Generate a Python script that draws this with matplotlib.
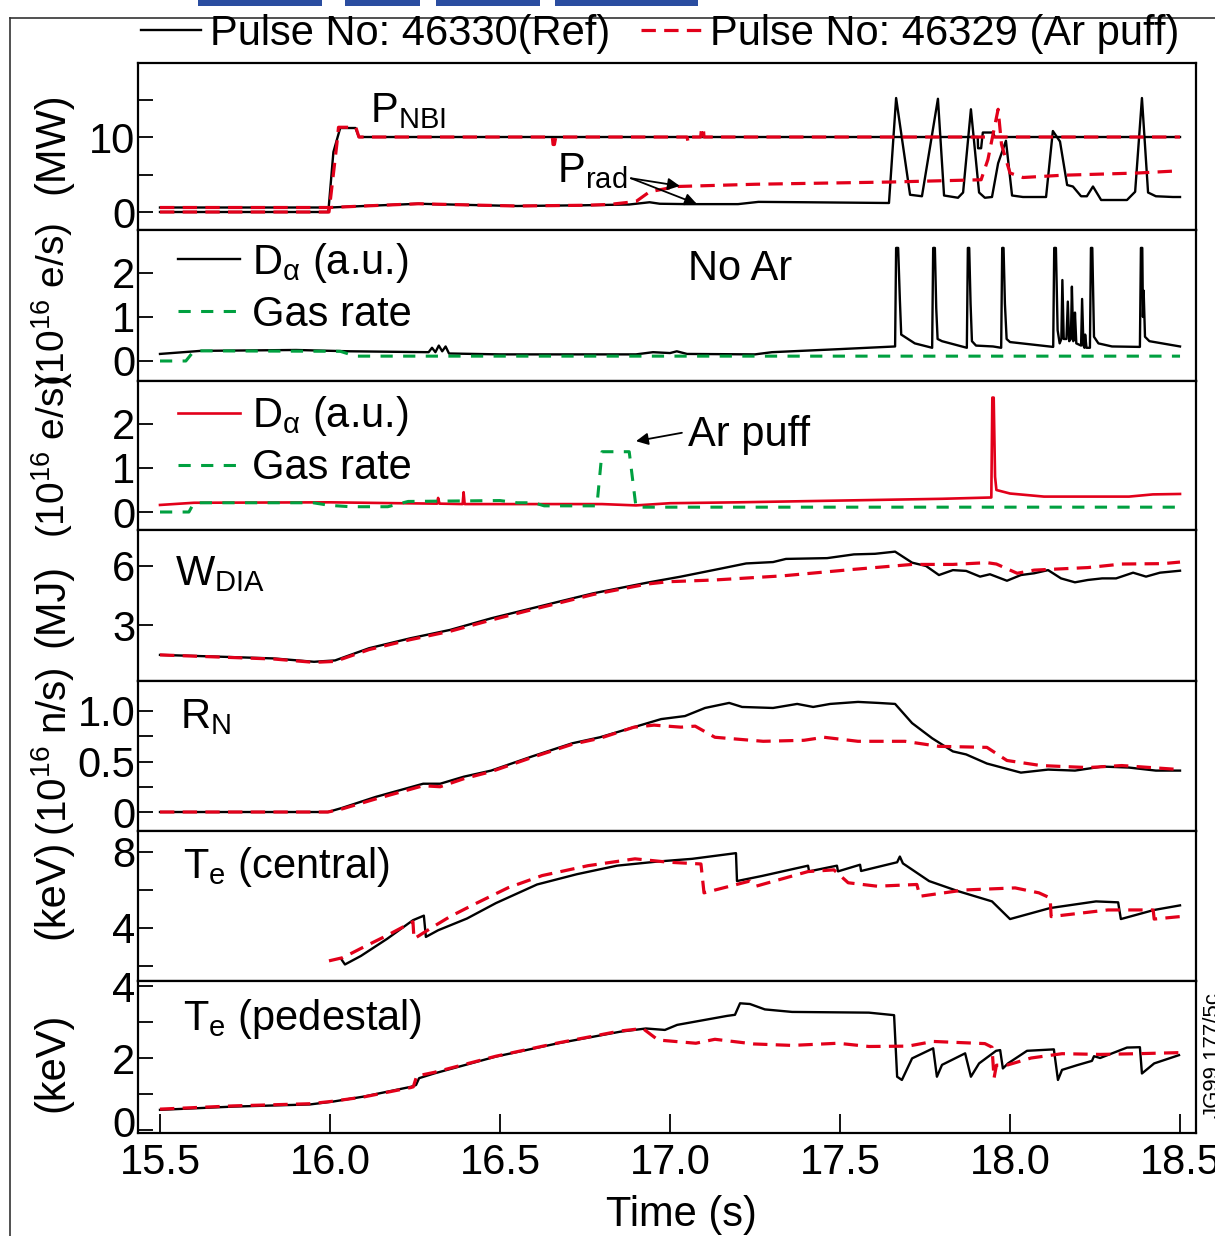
import matplotlib
matplotlib.use("Agg")
import matplotlib.pyplot as plt
from matplotlib.lines import Line2D
from matplotlib.patches import Rectangle
from matplotlib.transforms import ScaledTranslation

plt.rcParams['font.family'] = ['Liberation Sans', 'DejaVu Sans']
plt.rcParams['mathtext.fontset'] = 'custom'
plt.rcParams['mathtext.rm'] = 'Liberation Sans'
plt.rcParams['mathtext.it'] = 'Liberation Sans:italic'
plt.rcParams['mathtext.bf'] = 'Liberation Sans:bold'

# ---------------- DATA ----------------
x_ticks = [15.5, 16.0, 16.5, 17.0, 17.5, 18.0, 18.5]
x_ticklabels = ['15.5', '16.0', '16.5', '17.0', '17.5', '18.0', '18.5']

# Panel 1: powers (MW)
nbi_ref_t = [15.5, 15.995, 16.01, 16.03, 16.075, 16.085, 17.905, 17.906, 17.915, 17.92, 17.95, 17.955, 18.5]
nbi_ref_v = [0.0, 0.0, 8.0, 11.2, 11.2, 10.0, 10.0, 8.5, 8.5, 10.6, 10.6, 10.0, 10.0]
nbi_ar_t = [15.5, 15.997, 16.02, 16.025, 16.076, 16.085, 16.654, 16.656, 16.66, 16.664, 17.05, 17.053, 17.058,
            17.062, 17.09, 17.093, 17.098, 17.1, 18.5]
nbi_ar_v = [0.0, 0.0, 9.0, 11.3, 11.3, 10.0, 10.0, 9.0, 9.0, 10.0, 10.0, 9.4, 9.4,
            10.0, 10.0, 11.2, 11.2, 10.0, 10.0]
prad_ref_t = [15.5, 16.0, 16.1, 16.26, 16.4, 16.55, 16.75, 16.88, 16.94, 16.97, 17.05, 17.2, 17.26, 17.4,
              17.644, 17.665, 17.706, 17.741, 17.788, 17.806, 17.847, 17.862, 17.885, 17.909, 17.926, 17.947,
              17.965, 17.988, 18.006, 18.038, 18.106, 18.126, 18.147, 18.168, 18.185, 18.209, 18.226, 18.244,
              18.268, 18.344, 18.368, 18.388, 18.406, 18.429, 18.479, 18.5]
prad_ref_v = [0.6, 0.6, 0.8, 1.1, 0.95, 0.8, 0.9, 1.0, 1.3, 1.1, 1.05, 1.05, 1.35, 1.3,
              1.2, 15.2, 2.3, 2.1, 15.1, 2.2, 1.9, 2.6, 13.7, 2.6, 1.9, 2.0,
              6.5, 9.5, 2.2, 2.0, 2.0, 10.8, 9.4, 3.6, 3.4, 2.1, 2.1, 3.4,
              1.6, 1.6, 2.7, 15.2, 2.6, 2.1, 2.0, 2.0]
prad_ar_t = [15.5, 16.0, 16.1, 16.26, 16.4, 16.55, 16.75, 16.82, 16.9, 16.94, 17.02, 17.25, 17.65, 17.915,
             17.935, 17.965, 17.975, 18.0, 18.038, 18.153, 18.376, 18.5]
prad_ar_v = [0.6, 0.6, 0.8, 1.1, 0.95, 0.8, 0.9, 1.0, 1.4, 2.7, 3.4, 3.7, 4.0, 4.3,
             7.0, 13.7, 9.0, 5.2, 4.6, 4.9, 5.2, 5.5]

# Panel 2: reference pulse D-alpha and gas rate
da_ref_t = [15.5, 15.62, 15.9, 16.06, 16.29, 16.3, 16.31, 16.32, 16.33, 16.34, 16.35, 16.5, 16.9, 16.95,
            17.0, 17.02, 17.05, 17.25, 17.3, 17.5, 17.662,
            17.665, 17.671, 17.676, 17.68, 17.7, 17.72, 17.771,
            17.774, 17.779, 17.783, 17.787, 17.8, 17.873,
            17.876, 17.88, 17.884, 17.888, 17.9, 17.95, 17.974,
            17.977, 17.981, 17.985, 17.99, 18.0, 18.127,
            18.13, 18.135, 18.14, 18.146, 18.151, 18.154, 18.158, 18.166, 18.17, 18.174, 18.179, 18.182,
            18.186, 18.189, 18.191, 18.195, 18.209, 18.212, 18.216, 18.219, 18.221, 18.225, 18.235,
            18.238, 18.242, 18.247, 18.26, 18.3, 18.382,
            18.385, 18.389, 18.391, 18.393, 18.397, 18.41, 18.5]
da_ref_v = [0.16, 0.23, 0.25, 0.22, 0.2, 0.3, 0.2, 0.35, 0.22, 0.33, 0.17, 0.15, 0.15, 0.2,
            0.18, 0.22, 0.16, 0.15, 0.2, 0.27, 0.33,
            2.57, 2.57, 1.4, 0.6, 0.5, 0.4, 0.3,
            2.57, 2.57, 1.2, 0.5, 0.45, 0.3,
            2.57, 2.57, 1.3, 0.45, 0.35, 0.33, 0.3,
            2.57, 2.57, 1.3, 0.5, 0.43, 0.32,
            2.57, 2.57, 0.7, 0.4, 0.5, 1.84, 0.5, 0.5, 1.35, 0.45, 0.5, 1.69,
            0.45, 0.5, 1.1, 0.4, 0.35, 1.41, 0.35, 0.3, 0.6, 0.3, 0.3,
            2.57, 2.57, 0.55, 0.4, 0.33, 0.32,
            2.57, 2.57, 1.0, 1.6, 0.55, 0.45, 0.33]
gas_ref_t = [15.5, 15.576, 15.6, 16.03, 16.075, 18.5]
gas_ref_v = [0.0, 0.0, 0.23, 0.22, 0.11, 0.11]

# Panel 3: Ar-puff pulse D-alpha and gas rate
da_ar_t = [15.5, 15.6, 16.0, 16.2, 16.315, 16.318, 16.322, 16.39, 16.393, 16.396, 16.6, 16.8, 16.9,
           17.0, 17.2, 17.5, 17.8, 17.945, 17.948, 17.952, 17.956, 17.96, 18.0, 18.1, 18.35, 18.42, 18.5]
da_ar_v = [0.16, 0.21, 0.22, 0.2, 0.19, 0.32, 0.19, 0.18, 0.45, 0.18, 0.18, 0.18, 0.15,
           0.2, 0.22, 0.26, 0.3, 0.33, 2.6, 2.6, 0.8, 0.5, 0.42, 0.35, 0.35, 0.4, 0.41]
gas_ar_t = [15.5, 15.585, 15.6, 15.95, 16.0, 16.06, 16.17, 16.2, 16.23, 16.5, 16.55, 16.6, 16.63,
            16.785, 16.8, 16.88, 16.9, 18.5]
gas_ar_v = [0.0, 0.0, 0.21, 0.21, 0.15, 0.12, 0.12, 0.18, 0.24, 0.26, 0.21, 0.21, 0.14,
            0.14, 1.37, 1.37, 0.11, 0.11]

# Panel 4: W_DIA (MJ)
w_ref_t = [15.5, 15.674, 15.835, 15.953, 16.015, 16.115, 16.235, 16.353, 16.474, 16.594, 16.674, 16.774,
           16.932, 17.032, 17.153, 17.224, 17.303, 17.341, 17.462, 17.541, 17.603, 17.662, 17.712, 17.753,
           17.791, 17.832, 17.871, 17.912, 17.941, 17.991, 18.032, 18.071, 18.112, 18.15, 18.191, 18.229,
           18.271, 18.312, 18.362, 18.4, 18.441, 18.5]
w_ref_v = [1.48, 1.39, 1.3, 1.13, 1.2, 1.82, 2.32, 2.75, 3.34, 3.85, 4.19, 4.61,
           5.15, 5.46, 5.88, 6.13, 6.2, 6.36, 6.4, 6.59, 6.62, 6.73, 6.17, 6.0,
           5.54, 5.79, 5.75, 5.46, 5.58, 5.25, 5.54, 5.63, 5.79, 5.37, 5.17, 5.29,
           5.37, 5.37, 5.66, 5.46, 5.66, 5.76]
w_ar_t = [15.5, 15.674, 15.835, 15.953, 16.015, 16.115, 16.235, 16.353, 16.474, 16.594, 16.674, 16.774,
          16.932, 16.994, 17.132, 17.332, 17.541, 17.712, 17.832, 17.932, 17.96, 18.021, 18.071, 18.229,
          18.329, 18.45, 18.5]
w_ar_v = [1.48, 1.37, 1.27, 1.1, 1.15, 1.75, 2.25, 2.68, 3.25, 3.78, 4.12, 4.55,
          5.08, 5.2, 5.29, 5.5, 5.83, 6.08, 6.08, 6.17, 6.1, 5.63, 5.79, 5.92,
          6.1, 6.12, 6.2]

# Panel 5: neutron rate R_N (1e16 n/s)
rn_ref_t = [15.5, 15.994, 16.035, 16.135, 16.274, 16.324, 16.394, 16.474, 16.594, 16.712, 16.794, 16.894,
            16.974, 17.044, 17.103, 17.174, 17.212, 17.303, 17.374, 17.421, 17.471, 17.553, 17.612, 17.662,
            17.712, 17.771, 17.832, 17.871, 17.932, 18.032, 18.112, 18.191, 18.271, 18.35, 18.429, 18.5]
rn_ref_v = [0.0, 0.0, 0.04, 0.15, 0.28, 0.28, 0.35, 0.41, 0.55, 0.68, 0.74, 0.84,
            0.92, 0.95, 1.03, 1.08, 1.04, 1.03, 1.07, 1.04, 1.07, 1.09, 1.08, 1.07,
            0.88, 0.73, 0.6, 0.57, 0.48, 0.39, 0.42, 0.41, 0.45, 0.44, 0.41, 0.41]
rn_ar_t = [15.5, 15.994, 16.035, 16.135, 16.274, 16.324, 16.394, 16.474, 16.594, 16.712, 16.794, 16.894,
           16.953, 17.032, 17.074, 17.132, 17.274, 17.394, 17.453, 17.553, 17.691, 17.791, 17.932, 17.991,
           18.091, 18.229, 18.329, 18.5]
rn_ar_v = [0.0, 0.0, 0.03, 0.13, 0.26, 0.25, 0.33, 0.4, 0.54, 0.67, 0.73, 0.84,
           0.86, 0.84, 0.85, 0.74, 0.7, 0.71, 0.74, 0.7, 0.7, 0.65, 0.64, 0.51,
           0.46, 0.44, 0.46, 0.42]

# Panel 6: central Te (keV)
tec_ref_t = [16.032, 16.044, 16.091, 16.168, 16.244, 16.276, 16.282, 16.318, 16.403, 16.488, 16.609, 16.726,
             16.844, 16.965, 17.065, 17.194, 17.197, 17.271, 17.406, 17.409, 17.491, 17.494, 17.559, 17.562,
             17.668, 17.676, 17.685, 17.762, 17.847, 17.947, 18.0, 18.118, 18.253, 18.318, 18.326, 18.424, 18.5]
tec_ref_v = [2.39, 2.08, 2.53, 3.43, 4.41, 4.65, 3.53, 3.88, 4.5, 5.31, 6.29, 6.83,
             7.28, 7.5, 7.64, 7.94, 6.47, 6.74, 7.28, 6.98, 7.28, 6.98, 7.33, 7.0,
             7.46, 7.76, 7.4, 6.47, 5.94, 5.4, 4.47, 5.05, 5.4, 5.35, 4.47, 4.95, 5.19]
tec_ar_t = [15.997, 16.038, 16.097, 16.168, 16.244, 16.247, 16.303, 16.353, 16.421, 16.524, 16.624, 16.759,
            16.897, 16.997, 17.091, 17.1, 17.235, 17.253, 17.406, 17.482, 17.524, 17.609, 17.726, 17.735,
            17.865, 18.015, 18.085, 18.118, 18.121, 18.288, 18.421, 18.424, 18.5]
tec_ar_v = [2.27, 2.44, 2.98, 3.61, 4.33, 3.43, 4.06, 4.6, 5.22, 6.12, 6.76, 7.28,
            7.64, 7.46, 7.37, 5.85, 6.47, 6.2, 6.97, 7.06, 6.38, 6.2, 6.29, 5.67,
            6.0, 6.11, 5.85, 5.58, 4.6, 4.95, 4.95, 4.47, 4.6]

# Panel 7: pedestal Te (keV)
tep_ref_t = [15.5, 15.715, 15.941, 16.009, 16.1, 16.238, 16.253, 16.262, 16.306, 16.488, 16.671, 16.853,
             16.929, 16.985, 17.021, 17.168, 17.191, 17.206, 17.235, 17.279, 17.359, 17.585, 17.659, 17.668,
             17.682, 17.712, 17.774, 17.785, 17.8, 17.868, 17.885, 17.909, 17.959, 17.971, 17.979, 17.994,
             18.05, 18.129, 18.141, 18.153, 18.197, 18.241, 18.247, 18.265, 18.344, 18.382, 18.388, 18.424,
             18.497]
tep_ref_v = [0.56, 0.65, 0.71, 0.79, 0.93, 1.2, 1.25, 1.44, 1.57, 2.04, 2.41, 2.73,
             2.82, 2.78, 2.92, 3.17, 3.2, 3.52, 3.5, 3.35, 3.28, 3.26, 3.19, 1.48,
             1.39, 1.99, 2.27, 1.48, 1.81, 2.13, 1.48, 1.85, 2.2, 2.22, 1.71, 1.85,
             2.2, 2.24, 1.39, 1.67, 1.8, 1.92, 2.05, 2.0, 2.29, 2.3, 1.57, 1.85,
             2.08]
tep_ar_t = [15.5, 15.715, 15.941, 16.009, 16.1, 16.238, 16.245, 16.255, 16.306, 16.488, 16.671, 16.853,
            16.92, 16.965, 17.076, 17.132, 17.247, 17.359, 17.494, 17.585, 17.7, 17.774, 17.926, 17.947,
            17.953, 17.96, 17.994, 18.062, 18.153, 18.265, 18.376, 18.5]
tep_ar_v = [0.58, 0.67, 0.73, 0.8, 0.92, 1.18, 1.2, 1.5, 1.6, 2.05, 2.42, 2.75,
            2.82, 2.5, 2.41, 2.52, 2.39, 2.35, 2.41, 2.32, 2.33, 2.46, 2.4, 2.3,
            1.44, 1.8, 1.81, 2.0, 2.12, 2.1, 2.12, 2.15]

# ---------------- STYLE / LAYOUT ----------------
W, H = 1215, 1236
fig = plt.figure(figsize=(W / 100, H / 100), dpi=100)
fig.patch.set_facecolor('white')

RED = '#e2001a'
GREEN = '#00a040'
BLK = '#000000'
FS = 30

left_px, right_px = 138, 1196
bounds = [63, 230, 381, 530, 681, 831, 981, 1133]
ylims = [(-2.4, 19.87), (-0.455, 2.977), (-0.409, 2.977), (0.153, 7.83),
         (-0.188, 1.297), (1.21, 9.105), (-0.083, 4.139)]
xlim = (15.4353, 18.547)

axes = []
for i in range(7):
    top, bot = bounds[i], bounds[i + 1]
    ax = fig.add_axes([left_px / W, 1 - bot / H, (right_px - left_px) / W, (bot - top) / H])
    ax.set_xlim(*xlim)
    ax.set_ylim(*ylims[i])
    for s in ax.spines.values():
        s.set_linewidth(1.6)
    ax.tick_params(axis='y', direction='in', length=11, width=1.3, labelsize=FS, pad=2)
    ax.tick_params(axis='x', direction='in', length=14, width=1.3, labelsize=FS, pad=7)
    ax.set_xticks([])
    axes.append(ax)

red_dash = dict(color=RED, lw=2.3, ls=(0, (4.5, 2.6)))
green_dash = dict(color=GREEN, lw=2.2, ls=(0, (4.0, 3.4)))
blk = dict(color=BLK, lw=1.7)
arrow_kw = dict(arrowstyle='-|>', color='k', lw=1.3, mutation_scale=18, shrinkA=0, shrinkB=0)
leg_kw = dict(loc='upper left', frameon=False, fontsize=FS, handlelength=1.48,
              handletextpad=0.3, labelspacing=0.24, borderpad=0, borderaxespad=0)

# Panel 1
ax = axes[0]
ax.plot(nbi_ref_t, nbi_ref_v, **blk)
ax.plot(prad_ref_t, prad_ref_v, **blk)
ax.plot(nbi_ar_t, nbi_ar_v, **red_dash)
ax.plot(prad_ar_t, prad_ar_v, **red_dash)
ax.set_yticks([0, 5, 10, 15], ['0', '', '10', ''])
ax.text(16.118, 12.0, r'$\mathrm{P_{NBI}}$', fontsize=FS, va='baseline', ha='left')
ax.text(16.668, 4.0, r'$\mathrm{P_{rad}}$', fontsize=FS, va='baseline', ha='left')
for tip in [(17.029, 3.47), (17.079, 1.07)]:
    ax.annotate('', xy=tip, xytext=(16.885, 4.5), arrowprops=arrow_kw)

# Panel 2
ax = axes[1]
l1, = ax.plot(da_ref_t, da_ref_v, **blk)
l2, = ax.plot(gas_ref_t, gas_ref_v, **green_dash)
ax.set_yticks([0, 1, 2], ['0', '1', '2'])
ax.legend([l1, l2], [r'D$_{\mathrm{α}}$ (a.u.)', 'Gas rate'], bbox_to_anchor=(0.0378, 0.93), **leg_kw)
ax.text(17.053, 1.84, 'No Ar', fontsize=FS, va='baseline', ha='left')

# Panel 3
ax = axes[2]
l1, = ax.plot(da_ar_t, da_ar_v, color=RED, lw=1.9)
l2, = ax.plot(gas_ar_t, gas_ar_v, **green_dash)
ax.set_yticks([0, 1, 2], ['0', '1', '2'])
ax.legend([l1, l2], [r'D$_{\mathrm{α}}$ (a.u.)', 'Gas rate'], bbox_to_anchor=(0.0378, 0.91), **leg_kw)
ax.text(17.053, 1.5, 'Ar puff', fontsize=FS, va='baseline', ha='left')
ax.annotate('', xy=(16.9, 1.61), xytext=(17.035, 1.8), arrowprops=arrow_kw)

# Panel 4
ax = axes[3]
ax.plot(w_ref_t, w_ref_v, **blk)
ax.plot(w_ar_t, w_ar_v, **red_dash)
ax.set_yticks([3, 6], ['3', '6'])
ax.text(15.544, 5.03, r'$\mathrm{W_{DIA}}$', fontsize=FS, va='baseline', ha='left')

# Panel 5
ax = axes[4]
ax.plot(rn_ref_t, rn_ref_v, **blk)
ax.plot(rn_ar_t, rn_ar_v, **red_dash)
ax.set_yticks([0, 0.25, 0.5, 0.75, 1.0], ['0', '', '0.5', '', '1.0'])
ax.text(15.559, 0.83, r'$\mathrm{R_N}$', fontsize=FS, va='baseline', ha='left')

# Panel 6
ax = axes[5]
ax.plot(tec_ref_t, tec_ref_v, **blk)
ax.plot(tec_ar_t, tec_ar_v, **red_dash)
ax.set_yticks([2, 4, 6, 8], ['', '4', '', '8'])
ax.text(15.568, 6.63, r'$\mathrm{T_e}$ (central)', fontsize=FS, va='baseline', ha='left')

# Panel 7
ax = axes[6]
ax.plot(tep_ref_t, tep_ref_v, **blk)
ax.plot(tep_ar_t, tep_ar_v, **red_dash)
ax.set_yticks([0, 1, 2, 3, 4], ['0', '', '2', '', '4'])
ax.set_xticks(x_ticks, x_ticklabels)
ax.text(15.568, 2.78, r'$\mathrm{T_e}$ (pedestal)', fontsize=FS, va='baseline', ha='left')
lab0 = ax.yaxis.get_major_ticks()[0].label1
lab0.set_transform(lab0.get_transform() + ScaledTranslation(0, 0.09, fig.dpi_scale_trans))

# Y labels
ylabels = ['(MW)', r'(10$^{16}$ e/s)', r'(10$^{16}$ e/s)', '(MJ)', r'(10$^{16}$ n/s)', '(keV)', '(keV)']
ylabel_y = [143, 304, 456, 605, 752, 889, 1062]
ylabel_fs = [FS, 28, 28, FS, 29, FS, FS]
for lab, yy, fs in zip(ylabels, ylabel_y, ylabel_fs):
    fig.text(52 / W, 1 - yy / H, lab, rotation=90, fontsize=fs, ha='center', va='center')

fig.text(681 / W, 1 - 1215 / H, 'Time (s)', fontsize=FS, ha='center', va='center')

# Top legend
h1 = Line2D([], [], **blk)
h2 = Line2D([], [], **red_dash)
fig.legend([h1, h2], ['Pulse No: 46330(Ref)', 'Pulse No: 46329 (Ar puff)'], loc='center',
           bbox_to_anchor=(660 / W, 1 - 34 / H), ncol=2, frameon=False, fontsize=FS,
           handlelength=1.45, handletextpad=0.2, columnspacing=0.75, borderpad=0)

# Figure id text at right edge
fig.text(1213 / W, 1 - 1055 / H, 'JG99.177/5c', rotation=90, fontsize=16, ha='center', va='center')

# Outer frame lines
fig.add_artist(Line2D([10 / W, 10 / W], [0, 1 - 18 / H], color='#333333', lw=1.2))
fig.add_artist(Line2D([10 / W, 1], [1 - 18 / H, 1 - 18 / H], color='#333333', lw=1.2))

# Clipped logo fragments at the top
for x0, x1 in [(198, 322), (345, 420), (436, 540), (555, 698)]:
    fig.add_artist(Rectangle((x0 / W, 1 - 6 / H), (x1 - x0) / W, 6 / H, transform=fig.transFigure,
                             color='#2a4da0', lw=0))

fig.savefig('out.png', dpi=100)
